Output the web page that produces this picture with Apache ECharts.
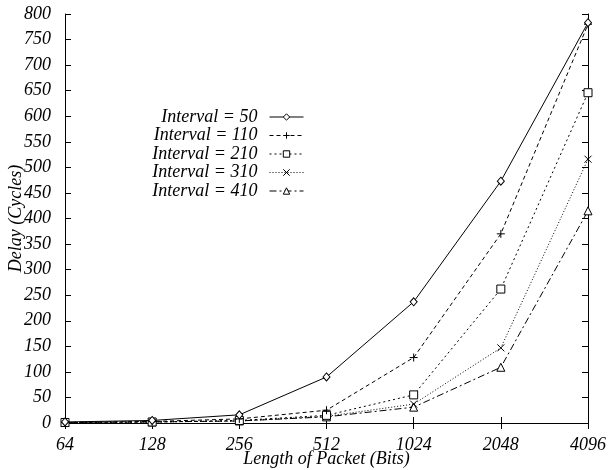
<!DOCTYPE html>
<html>
<head>
<meta charset="utf-8">
<script src="https://cdn.jsdelivr.net/npm/echarts@6/dist/echarts.min.js"></script>
<style>html,body{margin:0;padding:0;background:#fff;}#c{width:608px;height:470px;}</style>
</head>
<body>
<div id="c"></div>
<script>
const categories = ['64', '128', '256', '512', '1024', '2048', '4096'];
const seriesNames = ['Interval = 50', 'Interval = 110', 'Interval = 210', 'Interval = 310', 'Interval = 410'];
const interval50  = [2, 5, 16, 90, 237, 473, 783];
const interval110 = [1, 3, 8, 25, 128, 370, 780];
const interval210 = [1, 2, 5, 15, 55, 262, 646];
const interval310 = [1, 2, 4, 13, 37, 147, 516];
const interval410 = [1, 2, 4, 12, 31, 109, 415];
const yTicks = {min: 0, max: 800, step: 50};

const seriesData = [interval50, interval110, interval210, interval310, interval410];
const symbols = [
  'diamond',
  'path://M0,5L10,5M5,0L5,10',
  'rect',
  'path://M0,0L10,10M10,0L0,10',
  'triangle'
];
const symbolSizes = [[7, 8], 8, 8, 7, 8];
const dashes = ['solid', [4, 3], [2, 3], [1, 2], [7, 3, 2, 3]];

const font = '"Liberation Serif", "DejaVu Serif", serif';

const chart = echarts.init(document.getElementById('c'), null, {renderer: 'canvas'});
chart.setOption({
  animation: false,
  backgroundColor: '#fff',
  grid: {left: 65, right: 20, top: 14, bottom: 47, containLabel: false, outerBoundsMode: 'none'},
  legend: {
    orient: 'vertical',
    align: 'right',
    right: 304,
    top: 108,
    padding: 0,
    itemWidth: 34,
    itemHeight: 8,
    itemGap: 0.5,
    selectedMode: false,
    lineStyle: {width: 1},
    itemStyle: {borderWidth: 1},
    textStyle: {fontFamily: font, fontStyle: 'italic', fontSize: 18, lineHeight: 18, color: '#000', padding: [0, 7, 0, 0]},
    data: seriesNames
  },
  xAxis: [{
    type: 'category',
    data: categories,
    boundaryGap: false,
    name: 'Length of Packet (Bits)',
    nameLocation: 'middle',
    nameGap: 27,
    nameMoveOverlap: false,
    nameTextStyle: {fontFamily: font, fontStyle: 'italic', fontSize: 18, color: '#000'},
    axisLine: {lineStyle: {color: '#000', width: 1}},
    axisTick: {inside: true, length: 6, alignWithLabel: true, lineStyle: {color: '#000'}},
    axisLabel: {fontFamily: font, fontStyle: 'italic', fontSize: 18, color: '#000', margin: 13},
    splitLine: {show: false}
  }, {
    type: 'category',
    data: categories,
    boundaryGap: false,
    position: 'top',
    axisLine: {lineStyle: {color: '#000', width: 1}},
    axisTick: {inside: true, length: 6, lineStyle: {color: '#000'}},
    axisLabel: {show: false},
    splitLine: {show: false}
  }],
  yAxis: [{
    type: 'value',
    min: yTicks.min,
    max: yTicks.max,
    interval: yTicks.step,
    name: 'Delay (Cycles)',
    nameLocation: 'middle',
    nameGap: 40,
    nameMoveOverlap: false,
    nameTextStyle: {fontFamily: font, fontStyle: 'italic', fontSize: 18, color: '#000'},
    axisLine: {show: true, lineStyle: {color: '#000', width: 1}},
    axisTick: {show: true, inside: true, length: 6, lineStyle: {color: '#000'}},
    axisLabel: {fontFamily: font, fontStyle: 'italic', fontSize: 18, color: '#000', margin: 14},
    splitLine: {show: false}
  }, {
    type: 'value',
    min: yTicks.min,
    max: yTicks.max,
    interval: yTicks.step,
    position: 'right',
    axisLine: {show: true, lineStyle: {color: '#000', width: 1}},
    axisTick: {show: true, inside: true, length: 6, lineStyle: {color: '#000'}},
    axisLabel: {show: false},
    splitLine: {show: false}
  }],
  series: seriesNames.map((name, i) => ({
    name: name,
    type: 'line',
    data: seriesData[i],
    xAxisIndex: 0,
    yAxisIndex: 0,
    symbol: symbols[i],
    symbolSize: symbolSizes[i],
    showAllSymbol: true,
    lineStyle: {color: '#000', width: 1, type: dashes[i]},
    itemStyle: {color: '#fff', borderColor: '#000', borderWidth: 1},
    emphasis: {disabled: true},
    z: 10 - i
  }))
});
</script>
</body>
</html>
